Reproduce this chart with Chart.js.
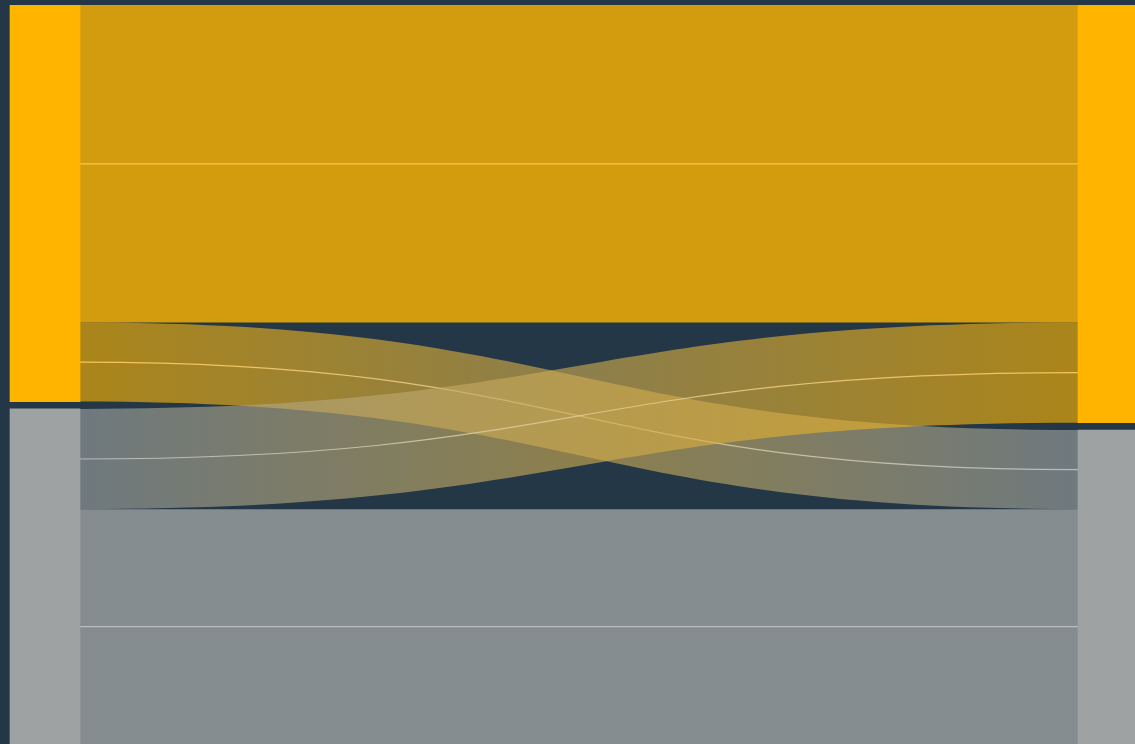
<!DOCTYPE html>
<html>
<head>
<meta charset="utf-8">
<script src="https://cdn.jsdelivr.net/npm/chart.js@4.4.1/dist/chart.umd.min.js"></script>
<style>
  html, body { margin: 0; padding: 0; background: #243746; }
  #wrap { width: 1135px; height: 744px; position: relative; }
</style>
</head>
<body>
<div id="wrap"><canvas id="flowChart"></canvas></div>
<script>
// nodes (same two groups on both sides)
const nodeNames = ["Group A", "Group B"];
const nodeColors = ["#ffb500", "#9ea2a2"];

// flows: source index -> target index, value
const flowFrom = [0, 0, 1, 1];
const flowTo = [0, 1, 0, 1];
const flowValues = [43.4, 10.8, 13.7, 32.1];

const nodeGap = 1.0;
const nodeWidth = 70;
const leftCenter = 45;
const rightCenter = 1113;

function hexRgba(hex, a) {
  const n = parseInt(hex.slice(1), 16);
  return `rgba(${(n >> 16) & 255}, ${(n >> 8) & 255}, ${n & 255}, ${a})`;
}

// node totals per side
const leftTotals = nodeNames.map((_, i) =>
  flowValues.reduce((s, v, k) => s + (flowFrom[k] === i ? v : 0), 0));
const rightTotals = nodeNames.map((_, i) =>
  flowValues.reduce((s, v, k) => s + (flowTo[k] === i ? v : 0), 0));
const total = flowValues.reduce((a, b) => a + b, 0);

function nodeStarts(totals) {
  const starts = [];
  let y = 0;
  totals.forEach((t) => { starts.push(y); y += t + nodeGap; });
  return starts;
}
const leftStarts = nodeStarts(leftTotals);
const rightStarts = nodeStarts(rightTotals);

// flow offsets inside nodes
const leftOff = leftStarts.slice();
const rightOff = rightStarts.slice();
const flows = flowValues.map((v, k) => {
  const s = flowFrom[k], t = flowTo[k];
  const f = { s, t, v, sy: leftOff[s], ty: rightOff[t] };
  leftOff[s] += v;
  rightOff[t] += v;
  return f;
});

const nodeBars = [];
const nodeBarColors = [];
nodeNames.forEach((_, i) => {
  nodeBars.push({ x: leftCenter, y: [leftStarts[i], leftStarts[i] + leftTotals[i]] });
  nodeBarColors.push(nodeColors[i]);
});
nodeNames.forEach((_, i) => {
  nodeBars.push({ x: rightCenter, y: [rightStarts[i], rightStarts[i] + rightTotals[i]] });
  nodeBarColors.push(nodeColors[i]);
});

const flowPlugin = {
  id: "flows",
  beforeDatasetsDraw(chart) {
    const { ctx, scales: { x, y } } = chart;
    const x0 = x.getPixelForValue(leftCenter + nodeWidth / 2);
    const x1 = x.getPixelForValue(rightCenter - nodeWidth / 2);
    const xm = (x0 + x1) / 2;
    // same-colour flows first, crossing ones on top
    const order = flows.filter((f) => f.s === f.t).concat(flows.filter((f) => f.s !== f.t));
    ctx.save();
    order.forEach((f) => {
      const a = f.s === f.t ? 0.8 : 0.62;
      const sTop = y.getPixelForValue(f.sy);
      const sBot = y.getPixelForValue(f.sy + f.v);
      const tTop = y.getPixelForValue(f.ty);
      const tBot = y.getPixelForValue(f.ty + f.v);
      const g = ctx.createLinearGradient(x0, 0, x1, 0);
      g.addColorStop(0, hexRgba(nodeColors[f.s], a));
      g.addColorStop(1, hexRgba(nodeColors[f.t], a));
      ctx.beginPath();
      ctx.moveTo(x0, sTop);
      ctx.bezierCurveTo(xm, sTop, xm, tTop, x1, tTop);
      ctx.lineTo(x1, tBot);
      ctx.bezierCurveTo(xm, tBot, xm, sBot, x0, sBot);
      ctx.closePath();
      ctx.fillStyle = g;
      ctx.fill();

      // centre line
      const sMid = (sTop + sBot) / 2;
      const tMid = (tTop + tBot) / 2;
      const lg = ctx.createLinearGradient(x0, 0, x1, 0);
      lg.addColorStop(0, f.s === 0 ? "rgba(255, 205, 90, 0.9)" : "rgba(190, 195, 198, 0.9)");
      lg.addColorStop(1, f.t === 0 ? "rgba(255, 205, 90, 0.9)" : "rgba(190, 195, 198, 0.9)");
      ctx.beginPath();
      ctx.moveTo(x0, sMid);
      ctx.bezierCurveTo(xm, sMid, xm, tMid, x1, tMid);
      ctx.strokeStyle = lg;
      ctx.lineWidth = 1.2;
      ctx.stroke();
    });
    ctx.restore();
  },
};

new Chart(document.getElementById("flowChart"), {
  type: "bar",
  data: {
    datasets: [{
      label: "nodes",
      data: nodeBars,
      backgroundColor: nodeBarColors,
      borderWidth: 0,
      barThickness: nodeWidth,
      grouped: false,
    }],
  },
  options: {
    responsive: true,
    maintainAspectRatio: false,
    animation: false,
    layout: { padding: { top: 5, left: 0, right: 0, bottom: 0 } },
    plugins: { legend: { display: false }, tooltip: { enabled: false } },
    scales: {
      x: { type: "linear", min: 0, max: 1135, offset: false, display: false },
      y: { min: 0, max: total + nodeGap, reverse: true, display: false },
    },
  },
  plugins: [flowPlugin],
});
</script>
</body>
</html>
